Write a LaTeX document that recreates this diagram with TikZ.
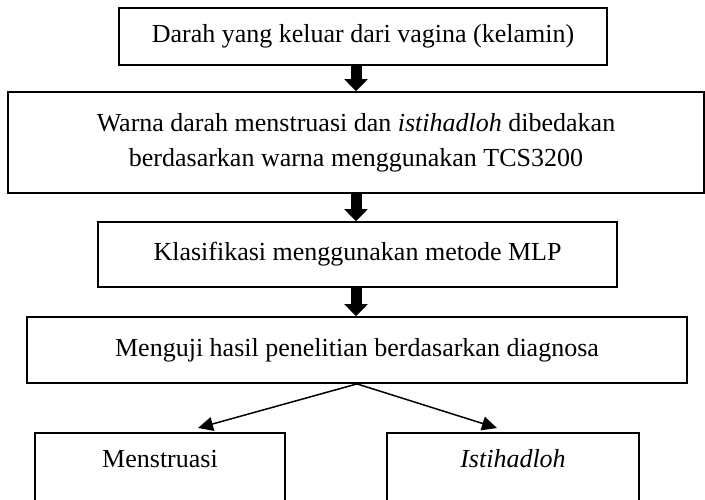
\documentclass[tikz,border=0pt]{standalone}
\usepackage{fontspec}
\setmainfont{Liberation Serif}
\usetikzlibrary{arrows.meta,calc}

\begin{document}
\begin{tikzpicture}[x=0.5pt,y=-0.5pt,
    font=\fontsize{13}{17.5}\selectfont,
    stepbox/.style={draw, line width=0.9pt, inner sep=0pt, align=center},
    leafbox/.style={stepbox, minimum height=60pt, text height=9pt, text depth=35pt},
    blockarrow/.style={line width=5.5pt, -{Triangle[width=11.5pt,length=6pt]}},
    thinarrow/.style={line width=0.75pt, -{Triangle[width=7pt,length=7.5pt]}}]
    \clip (0,0) rectangle (705,499);
    % alur utama
    \node[stepbox, minimum width=244pt, minimum height=28.5pt] (darah) at (363,36.5)
      {Darah yang keluar dari vagina (kelamin)};
    \node[stepbox, minimum width=348pt, minimum height=50.5pt] (warna) at (356,142.5)
      {Warna darah menstruasi dan \textit{istihadloh} dibedakan\\berdasarkan warna menggunakan TCS3200};
    \node[stepbox, minimum width=259.5pt, minimum height=32.5pt] (klas) at (357.5,254.5)
      {Klasifikasi menggunakan metode MLP};
    \node[stepbox, minimum width=330pt, minimum height=33pt] (uji) at (357,350)
      {Menguji hasil penelitian berdasarkan diagnosa};
    % hasil
    \node[leafbox, minimum width=125pt] (mens) at (160,493) {Menstruasi};
    \node[leafbox, minimum width=126pt] (isti) at (513,493) {\textit{Istihadloh}};
    \draw[blockarrow] (darah.south -| warna.center) -- (warna.north);
    \draw[blockarrow] (warna.south) -- (klas.north -| warna.center);
    \draw[blockarrow] (klas.south -| warna.center) -- (uji.north -| warna.center);
    \coordinate (kiri) at (198,428);
    \coordinate (kanan) at (497,428);
    \draw[thinarrow] (uji.south) -- (kiri);
    \draw[thinarrow] (uji.south) -- (kanan);
\end{tikzpicture}
\end{document}
